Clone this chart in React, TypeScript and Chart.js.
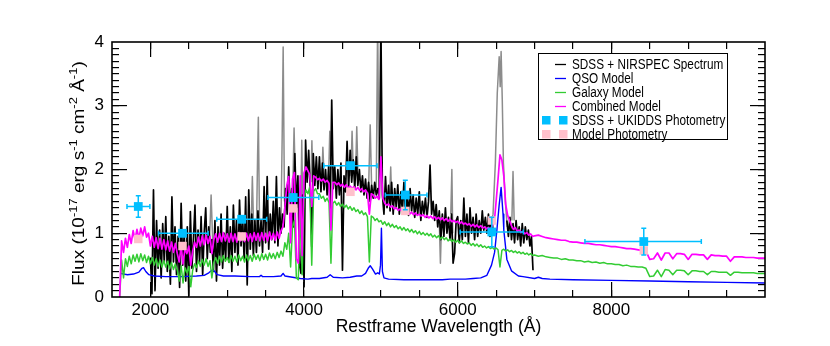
import React, { useEffect, useRef } from "react";
import { Chart, registerables } from "chart.js";

Chart.register(...registerables);

// ---------------- axis definitions ----------------
const X_MIN = 1500;
const X_MAX = 10000;
const Y_MIN = 0;
const Y_MAX = 4;
const X_TICKS = [2000, 4000, 6000, 8000];
const Y_TICKS = [0, 1, 2, 3, 4];
const Y_MAJOR_MARKS = [1, 2, 3];
const X_MINOR_STEP = 500;
const Y_MINOR_STEP = 0.1;
const X_TITLE = "Restframe Wavelength (Å)";
const Y_TITLE_PARTS: [string, boolean][] = [
  ["Flux (10", false], ["-17", true], [" erg s", false], ["-1", true],
  [" cm", false], ["-2", true], [" Å", false], ["-1", true], [")", false],
];

// ---------------- observed spectrum (SDSS + NIRSPEC) ----------------
// wavelength grid: 2000 .. 6980 A, step 20 A (10 values per row = 200 A)
const SPEC_START = 2000;
const SPEC_STEP = 20;
const specFlux: (number | null)[] = [
  /*2000*/ 0.62, 0.05, 1.68, 0.10, 1.20, 0.45, 1.05, 0.30, 1.15, 0.55,
  /*2200*/ 1.26, 0.40, 0.95, 0.20, 1.57, 0.55, 1.10, 0.35, 0.95, 0.15,
  /*2400*/ 1.47, 0.50, 1.00, 0.25, 1.10, 0.02, 1.34, 0.45, 0.90, 1.44,
  /*2600*/ 0.40, 1.05, 0.55, 1.26, 0.35, 1.00, 1.40, 0.60, 1.10, 0.70,
  /*2800*/ 0.90, 0.40, 1.20, 0.25, 1.10, 0.50, 1.30, 0.45, 1.00, 0.60,
  /*3000*/ 1.42, 0.55, 1.10, 0.40, 1.44, 0.70, 1.20, 0.50, 1.52, 0.80,
  /*3200*/ 1.25, 0.60, 1.57, 0.19, 1.68, 0.75, 1.30, 0.65, 1.20, 0.70,
  /*3400*/ 1.35, 0.80, 1.20, 0.70, 1.73, 0.85, 1.89, 0.75, 1.30, 0.90,
  /*3600*/ 1.50, 0.85, 1.89, 0.80, 1.40, 1.00, 1.30, 1.10, 1.70, 1.30,
  /*3800*/ 2.04, 1.30, 1.70, 1.10, 2.25, 1.40, 1.90, 0.50, 0.37, 1.60,
  /*4000*/ 0.16, 2.46, 1.80, 2.30, 1.70, 0.79, 2.25, 1.75, 2.20, 1.70,
  /*4200*/ 2.20, 1.65, 2.10, 1.68, 2.00, 1.60, 2.05, 1.30, 3.09, 1.70,
  /*4400*/ 2.04, 1.55, 2.00, 1.60, 2.10, 0.42, 1.90, 1.65, 2.44, 1.70,
  /*4600*/ 2.30, 1.80, 2.15, 1.70, 2.20, 1.75, 2.00, 1.65, 1.90, 1.60,
  /*4800*/ 1.85, 1.55, 1.80, 1.50, 1.75, 1.55, 1.80, 1.60, 1.70, 1.55,
  /*5000*/ 4.30, 1.60, 1.30, 1.89, 1.40, 1.75, 1.35, 1.80, 1.30, 1.70,
  /*5200*/ 1.40, 1.76, 1.30, 1.65, 1.35, 1.80, 1.30, 1.60, 1.28, 1.70,
  /*5400*/ 1.35, 1.60, 1.25, 1.55, 1.30, 1.65, 1.20, 1.50, 1.30, 1.55,
  /*5600*/ 1.25, 1.50, 2.07, 1.30, 1.50, 1.20, 1.45, 1.10, 1.35, 0.90,
  /*5800*/ 1.30, 0.95, 1.40, 1.00, 1.25, 0.90, 1.30, 0.53, 0.69, 1.20,
  /*6000*/ 1.26, 0.85, 1.20, 0.90, 1.55, 0.95, 1.30, 0.85, 1.40, 1.00,
  /*6200*/ 1.25, 0.90, 1.30, 0.95, 1.20, 1.00, 1.35, 1.05, 1.25, 1.00,
  /*6400*/ 1.30, 0.95, 1.25, 1.05, null, null, null, null, null, null,
  /*6600*/ null, null, 1.20, 0.95, 1.25, 0.90, 1.15, 0.85, 1.20, 0.90,
  /*6800*/ 1.10, 0.80, 1.15, 0.85, 1.10, 0.90, 1.05, 0.80, 0.95, 0.42,
];

// masked emission-line parts of the spectrum (grey); null separates pieces
const lineWave = [
  2770, 2790, 2810, 2815,
  3310, 3327, 3345, 3350,
  3380, 3395, 3405, 3420, 3425,
  3700, 3715, 3728, 3745, 3750,
  3850, 3870, 3890, 3895,
  3955, 3970, 3985, 3990,
  4090, 4102, 4115, 4120,
  4230, 4245, 4260, 4265,
  4320, 4335, 4350, 4355,
  4610, 4625, 4640, 4645,
  4670, 4686, 4700, 4705,
  4840, 4861, 4880, 4885,
  4940, 4958, 4975, 4980,
  5115, 5128, 5140, 5145,
  5760, 5775, 5790, 5795,
  5910, 5924, 5935, 5940,
  6420, 6460, 6490, 6515, 6540, 6553, 6565, 6580, 6595, 6620, 6645, 6650,
  6705, 6720, 6735, 6740,
];
const lineFlux: (number | null)[] = [
  0.9, 1.6, 0.9, null,
  1.0, 1.89, 1.0, null,
  1.0, 2.2, 2.82, 1.2, null,
  1.2, 2.5, 3.92, 1.5, null,
  1.5, 2.65, 1.6, null,
  1.0, 2.46, 1.2, null,
  1.8, 2.45, 1.8, null,
  1.8, 2.35, 1.9, null,
  1.9, 2.6, 2.0, null,
  1.9, 2.6, 2.0, null,
  1.9, 2.67, 2.0, null,
  1.7, 2.7, 1.7, null,
  1.7, 4.4, 1.7, null,
  1.6, 2.04, 1.5, null,
  1.2, 0.53, 1.2, null,
  1.3, 2.0, 1.0, null,
  1.1, 1.3, 2.1, 3.2, 3.77, 3.3, 3.85, 3.1, 2.1, 1.5, 1.1, null,
  1.2, 1.97, 1.2, null,
];

// ---------------- QSO model ----------------
const qsoWave = [
  1610, 1700, 1780, 1850, 1890, 1910, 1940, 1980, 2050, 2200,
  2400, 2600, 2700, 2760, 2800, 2830, 2870, 2950, 3100, 3300,
  3420, 3440, 3460, 3600, 3700, 3727, 3750, 3850, 3950, 4050,
  4100, 4200, 4300, 4340, 4380, 4500, 4600, 4686, 4750, 4800,
  4840, 4861, 4890, 4930, 4959, 4980, 4995, 5007, 5020, 5040,
  5100, 5300, 5500, 5800, 5900, 6000, 6100, 6200, 6300, 6380,
  6440, 6480, 6510, 6540, 6565, 6590, 6600, 6640, 6700, 6790,
  6850, 7000, 7050, 7100, 7200, 7500, 8000, 8500, 9000, 9500,
  10000,
];
const qsoFlux = [
  0.37, 0.35, 0.36, 0.39, 0.45, 0.46, 0.40, 0.35, 0.33, 0.32,
  0.32, 0.33, 0.34, 0.38, 0.42, 0.41, 0.35, 0.33, 0.33, 0.32,
  0.32, 0.34, 0.32, 0.32, 0.33, 0.37, 0.33, 0.31, 0.29, 0.28,
  0.29, 0.29, 0.31, 0.35, 0.31, 0.30, 0.31, 0.33, 0.33, 0.37,
  0.46, 0.49, 0.44, 0.36, 0.38, 0.36, 0.50, 1.08, 0.40, 0.30,
  0.28, 0.27, 0.27, 0.27, 0.28, 0.28, 0.28, 0.29, 0.30, 0.34,
  0.50, 0.70, 1.05, 1.45, 1.72, 1.30, 1.05, 0.59, 0.41, 0.33,
  0.32, 0.29, 0.31, 0.29, 0.28, 0.27, 0.26, 0.25, 0.24, 0.23,
  0.22,
];

// ---------------- galaxy & combined models ----------------
// grid A: 1600 .. 6975 A, step 25 (8 values per row = 200 A)
// grid B: 7000 .. 10000 A, step 50 (10 values per row = 500 A)
const MODEL_A_START = 1600;
const MODEL_A_STEP = 25;
const MODEL_A_COUNT = 216;
const MODEL_B_START = 7000;
const MODEL_B_STEP = 50;
const MODEL_B_COUNT = 61;

const galaxyFlux = [
  /*1600*/ 0.00, 0.58, 0.30, 0.60, 0.48, 0.64, 0.52, 0.66,
  /*1800*/ 0.56, 0.67, 0.55, 0.68, 0.57, 0.66, 0.54, 0.64,
  /*2000*/ 0.52, 0.62, 0.50, 0.60, 0.48, 0.58, 0.47, 0.57,
  /*2200*/ 0.47, 0.56, 0.44, 0.54, 0.43, 0.52, 0.42, 0.25,
  /*2400*/ 0.49, 0.22, 0.46, 0.38, 0.48, 0.16, 0.42, 0.52,
  /*2600*/ 0.46, 0.57, 0.48, 0.59, 0.50, 0.60, 0.48, 0.57,
  /*2800*/ 0.30, 0.54, 0.62, 0.53, 0.64, 0.55, 0.65, 0.56,
  /*3000*/ 0.62, 0.54, 0.65, 0.56, 0.64, 0.55, 0.66, 0.57,
  /*3200*/ 0.64, 0.55, 0.66, 0.57, 0.65, 0.56, 0.67, 0.59,
  /*3400*/ 0.66, 0.57, 0.68, 0.59, 0.67, 0.58, 0.69, 0.61,
  /*3600*/ 0.68, 0.60, 0.70, 0.62, 0.72, 0.64, 0.85, 0.75,
  /*3800*/ 1.00, 0.47, 1.10, 1.20, 0.30, 0.27, 1.35, 0.35,
  /*4000*/ 1.55, 1.68, 1.62, 1.73, 0.50, 1.66, 1.70, 1.62,
  /*4200*/ 1.62, 1.55, 1.58, 1.50, 1.55, 1.48, 0.53, 1.47,
  /*4400*/ 1.50, 1.44, 1.48, 1.42, 1.46, 1.40, 1.44, 1.38,
  /*4600*/ 1.42, 1.36, 1.40, 1.34, 1.37, 1.31, 1.35, 1.29,
  /*4800*/ 1.32, 1.26, 0.55, 1.27, 1.25, 1.20, 1.23, 1.18,
  /*5000*/ 1.20, 1.14, 1.18, 1.12, 1.16, 1.10, 1.14, 1.09,
  /*5200*/ 1.12, 1.07, 1.10, 1.05, 1.09, 1.04, 1.07, 1.02,
  /*5400*/ 1.06, 1.01, 1.04, 0.99, 1.03, 0.98, 1.01, 0.97,
  /*5600*/ 1.00, 0.96, 0.99, 0.94, 0.97, 0.93, 0.96, 0.91,
  /*5800*/ 0.94, 0.90, 0.93, 0.88, 0.91, 0.87, 0.90, 0.86,
  /*6000*/ 0.89, 0.85, 0.88, 0.84, 0.86, 0.83, 0.85, 0.81,
  /*6200*/ 0.84, 0.80, 0.83, 0.79, 0.82, 0.78, 0.80, 0.77,
  /*6400*/ 0.79, 0.76, 0.78, 0.75, 0.77, 0.74, 0.47, 0.73,
  /*6600*/ 0.75, 0.72, 0.74, 0.71, 0.73, 0.70, 0.72, 0.69,
  /*6800*/ 0.71, 0.68, 0.70, 0.67, 0.69, 0.66, 0.68, 0.65,
  /*7000*/ 0.66, 0.64, 0.65, 0.63, 0.62, 0.61, 0.61, 0.59, 0.60, 0.58,
  /*7500*/ 0.58, 0.57, 0.57, 0.55, 0.56, 0.54, 0.55, 0.53, 0.54, 0.52,
  /*8000*/ 0.52, 0.51, 0.51, 0.49, 0.50, 0.48, 0.48, 0.47, 0.47, 0.45,
  /*8500*/ 0.32, 0.33, 0.42, 0.32, 0.43, 0.42, 0.35, 0.42, 0.42, 0.41,
  /*9000*/ 0.35, 0.41, 0.41, 0.40, 0.40, 0.35, 0.40, 0.40, 0.39, 0.39,
  /*9500*/ 0.39, 0.34, 0.39, 0.39, 0.38, 0.38, 0.38, 0.38, 0.37, 0.37,
  /*10000*/ 0.37,
];

const combinedFlux = [
  /*1600*/ 0.00, 0.88, 0.70, 0.92, 0.78, 0.98, 0.84, 1.04,
  /*1800*/ 0.90, 1.06, 0.92, 1.08, 0.96, 1.10, 0.94, 1.00,
  /*2000*/ 0.80, 0.95, 0.78, 0.93, 0.76, 0.92, 0.75, 0.90,
  /*2200*/ 0.74, 0.88, 0.72, 0.86, 0.70, 0.84, 0.68, 0.55,
  /*2400*/ 0.80, 0.52, 0.76, 0.68, 0.80, 0.50, 0.72, 0.86,
  /*2600*/ 0.78, 0.94, 0.80, 0.96, 0.82, 0.97, 0.84, 0.95,
  /*2800*/ 0.68, 0.90, 0.99, 0.86, 1.00, 0.87, 1.01, 0.88,
  /*3000*/ 0.99, 0.86, 1.00, 0.87, 0.99, 0.86, 1.01, 0.88,
  /*3200*/ 1.00, 0.87, 1.00, 0.88, 0.99, 0.87, 1.01, 0.89,
  /*3400*/ 1.00, 0.88, 1.01, 0.89, 1.00, 0.88, 1.02, 0.90,
  /*3600*/ 1.00, 0.89, 1.02, 0.92, 1.04, 1.10, 1.40, 1.75,
  /*3800*/ 1.89, 0.85, 1.85, 1.95, 0.60, 0.53, 1.90, 0.65,
  /*4000*/ 1.95, 2.04, 1.98, 1.92, 1.42, 1.90, 1.88, 1.84,
  /*4200*/ 1.86, 1.82, 1.85, 1.80, 1.83, 1.78, 1.05, 1.80,
  /*4400*/ 1.80, 1.76, 1.79, 1.74, 1.77, 1.72, 1.76, 1.71,
  /*4600*/ 1.74, 1.70, 1.73, 1.68, 1.72, 1.67, 1.70, 1.65,
  /*4800*/ 1.68, 1.63, 1.30, 1.62, 1.60, 1.55, 1.58, 1.53,
  /*5000*/ 2.20, 1.55, 1.47, 1.44, 1.46, 1.41, 1.43, 1.38,
  /*5200*/ 1.40, 1.36, 1.38, 1.34, 1.36, 1.32, 1.34, 1.30,
  /*5400*/ 1.33, 1.29, 1.32, 1.28, 1.30, 1.27, 1.29, 1.25,
  /*5600*/ 1.28, 1.24, 1.27, 1.23, 1.26, 1.22, 1.25, 1.21,
  /*5800*/ 1.24, 1.20, 1.23, 1.19, 1.22, 1.18, 1.20, 1.17,
  /*6000*/ 1.19, 1.15, 1.18, 1.14, 1.16, 1.13, 1.15, 1.11,
  /*6200*/ 1.14, 1.10, 1.13, 1.09, 1.12, 1.08, 1.10, 1.07,
  /*6400*/ 1.09, 1.06, 1.12, 1.16, 1.50, 1.85, 2.23, 2.15,
  /*6600*/ 1.90, 1.45, 1.28, 1.20, 1.12, 1.06, 1.09, 1.03,
  /*6800*/ 1.05, 1.01, 1.03, 0.99, 1.01, 0.97, 0.99, 0.95,
  /*7000*/ 0.96, 0.97, 0.95, 0.93, 0.92, 0.91, 0.90, 0.89, 0.89, 0.87,
  /*7500*/ 0.86, 0.86, 0.85, 0.84, 0.84, 0.83, 0.82, 0.82, 0.81, 0.80,
  /*8000*/ 0.79, 0.79, 0.78, 0.77, 0.76, 0.76, 0.75, 0.74, 0.73, 0.72,
  /*8500*/ 0.59, 0.60, 0.69, 0.58, 0.69, 0.69, 0.60, 0.68, 0.68, 0.67,
  /*9000*/ 0.59, 0.67, 0.67, 0.66, 0.66, 0.59, 0.66, 0.65, 0.65, 0.64,
  /*9500*/ 0.64, 0.56, 0.63, 0.63, 0.63, 0.62, 0.62, 0.62, 0.61, 0.61,
  /*10000*/ 0.61,
];

// ---------------- photometry ----------------
const photWave = [1842, 2418, 3188, 3859, 4604, 5318, 6444, 8422];
const photWaveLo = [1695, 2106, 2864, 3530, 4257, 5058, 6032, 7656];
const photWaveHi = [1993, 2751, 3513, 4192, 4950, 5600, 6855, 9171];
const photFlux = [1.42, 1.0, 1.22, 1.56, 2.06, 1.6, 1.02, 0.87];
const photFluxErr = [0.17, 0.05, 0.05, 0.05, 0.05, 0.23, 0.23, 0.21];
const modelPhotFlux = [0.91, 0.80, 0.95, 1.39, 1.65, 1.35, 1.20, 0.73];

// ---------------- legend ----------------
const LEGEND_LABELS = [
  "SDSS + NIRSPEC Spectrum",
  "QSO Model",
  "Galaxy Model",
  "Combined Model",
  "SDSS + UKIDDS Photometry",
  "Model Photometry",
];

// ---------------- styles ----------------
const C_SPEC = "#000000";
const C_LINES = "#8c8c8c";
const C_QSO = "#0000ff";
const C_GAL = "#33cc33";
const C_COMB = "#ff00ff";
const C_PHOT = "#00bfff";
const C_MPHOT = "#ffc0cb";
const FONT = "'Liberation Sans', Arial, Helvetica, sans-serif";

function grid(start: number, step: number, n: number): number[] {
  const out: number[] = [];
  for (let i = 0; i < n; i++) out.push(start + i * step);
  return out;
}

const specWave = grid(SPEC_START, SPEC_STEP, specFlux.length);
const modelWave = grid(MODEL_A_START, MODEL_A_STEP, MODEL_A_COUNT).concat(
  grid(MODEL_B_START, MODEL_B_STEP, MODEL_B_COUNT)
);

const pts = (wv: number[], fl: (number | null)[]) =>
  wv.map((x, i) => ({ x, y: fl[i] === null ? null : (fl[i] as number) }));

// tick-mark values along each axis (every minor step)
const xTickValues: number[] = grid(X_MIN + X_MINOR_STEP, X_MINOR_STEP, 16);
const yTickValues: number[] = grid(1, 1, 39).map((k) => Y_MIN + k * Y_MINOR_STEP);

// auxiliary zero-size axes that only draw inward tick marks
function markAxis(axis: "x" | "y", position: string, values: number[], len: number) {
  return {
    type: "linear",
    axis,
    position,
    weight: 0,
    min: axis === "x" ? X_MIN : Y_MIN,
    max: axis === "x" ? X_MAX : Y_MAX,
    display: true,
    grid: {
      display: true,
      drawOnChartArea: false,
      drawTicks: true,
      tickLength: -len,
      color: "#000000",
      lineWidth: 1.2,
    },
    border: { display: false },
    ticks: { display: false },
    afterBuildTicks: (s: any) => {
      s.ticks = values.map((v) => ({ value: v }));
    },
    afterFit: (s: any) => {
      if (axis === "x") s.height = 0;
      else s.width = 0;
    },
  };
}

// --------------- plugins ---------------
const errorBars = {
  id: "errorBars",
  afterDatasetsDraw(chart: any) {
    const ctx: CanvasRenderingContext2D = chart.ctx;
    const xs = chart.scales.x;
    const ys = chart.scales.y;
    ctx.save();
    ctx.strokeStyle = C_PHOT;
    ctx.lineWidth = 1.5;
    const cap = 2.5;
    for (let i = 0; i < photWave.length; i++) {
      const yc = ys.getPixelForValue(photFlux[i]);
      const xc = xs.getPixelForValue(photWave[i]);
      const x0 = xs.getPixelForValue(photWaveLo[i]);
      const x1 = xs.getPixelForValue(photWaveHi[i]);
      const y0 = ys.getPixelForValue(photFlux[i] - photFluxErr[i]);
      const y1 = ys.getPixelForValue(photFlux[i] + photFluxErr[i]);
      ctx.beginPath();
      ctx.moveTo(x0, yc); ctx.lineTo(x1, yc);
      ctx.moveTo(x0, yc - cap); ctx.lineTo(x0, yc + cap);
      ctx.moveTo(x1, yc - cap); ctx.lineTo(x1, yc + cap);
      ctx.moveTo(xc, y0); ctx.lineTo(xc, y1);
      ctx.moveTo(xc - cap, y0); ctx.lineTo(xc + cap, y0);
      ctx.moveTo(xc - cap, y1); ctx.lineTo(xc + cap, y1);
      ctx.stroke();
    }
    ctx.restore();
  },
};

const annotations = {
  id: "annotations",
  afterDraw(chart: any) {
    const ctx: CanvasRenderingContext2D = chart.ctx;
    const ca = chart.chartArea;

    // y axis title with superscripts
    ctx.save();
    const baseFont = `19px ${FONT}`;
    const supFont = `13px ${FONT}`;
    let total = 0;
    for (const [t, sup] of Y_TITLE_PARTS) {
      ctx.font = sup ? supFont : baseFont;
      total += ctx.measureText(t).width;
    }
    ctx.translate(84, (ca.top + ca.bottom) / 2 + 4);
    ctx.scale(0.86, 1);
    ctx.rotate(-Math.PI / 2);
    ctx.fillStyle = "#000";
    ctx.textBaseline = "alphabetic";
    ctx.textAlign = "left";
    let xpos = -total / 2;
    for (const [t, sup] of Y_TITLE_PARTS) {
      ctx.font = sup ? supFont : baseFont;
      ctx.fillText(t, xpos, sup ? -8 : 0);
      xpos += ctx.measureText(t).width;
    }
    ctx.restore();

    // frame
    ctx.save();
    ctx.strokeStyle = "#000000";
    ctx.lineWidth = 1.6;
    ctx.strokeRect(ca.left, ca.top, ca.right - ca.left, ca.bottom - ca.top);
    ctx.restore();

    // legend
    const bx = 538.5, by = 53.5, bw = 189, bh = 86;
    ctx.save();
    ctx.fillStyle = "#fff";
    ctx.fillRect(bx, by, bw, bh);
    ctx.strokeStyle = "#000";
    ctx.lineWidth = 1;
    ctx.strokeRect(bx, by, bw, bh);
    const colors = [C_SPEC, C_QSO, C_GAL, C_COMB];
    for (let i = 0; i < LEGEND_LABELS.length; i++) {
      const cy = 64 + i * 14;
      if (i < 4) {
        ctx.strokeStyle = colors[i];
        ctx.lineWidth = 1.3;
        ctx.beginPath();
        ctx.moveTo(555, cy + 0.5);
        ctx.lineTo(566, cy + 0.5);
        ctx.stroke();
      } else {
        ctx.fillStyle = i === 4 ? C_PHOT : C_MPHOT;
        ctx.fillRect(542, cy - 4, 8.5, 8.5);
        ctx.fillRect(559, cy - 4, 8.5, 8.5);
      }
      ctx.save();
      ctx.translate(572, cy + 1);
      ctx.scale(0.84, 1);
      ctx.font = `14px ${FONT}`;
      ctx.textBaseline = "middle";
      ctx.textAlign = "left";
      ctx.fillStyle = "#000";
      ctx.fillText(LEGEND_LABELS[i], 0, 0);
      ctx.restore();
    }
    ctx.restore();
  },
};

export default function App() {
  const ref = useRef<HTMLCanvasElement | null>(null);
  useEffect(() => {
    if (!ref.current) return;
    const lineDs = (label: string, data: any[], color: string, order: number, width = 1.2) => ({
      label,
      data,
      borderColor: color,
      backgroundColor: color,
      borderWidth: width,
      pointRadius: 0,
      tension: 0,
      spanGaps: false,
      borderJoinStyle: "round" as const,
      order,
    });
    const chart = new Chart(ref.current, {
      type: "line",
      data: {
        datasets: [
          {
            label: LEGEND_LABELS[4],
            data: pts(photWave, photFlux),
            showLine: false,
            pointStyle: "rect",
            pointRadius: 6.2,
            pointBorderWidth: 0,
            backgroundColor: C_PHOT,
            borderColor: C_PHOT,
            order: 0,
          } as any,
          {
            label: LEGEND_LABELS[5],
            data: pts(photWave, modelPhotFlux),
            showLine: false,
            pointStyle: "rect",
            pointRadius: 6.0,
            pointBorderWidth: 0,
            backgroundColor: C_MPHOT,
            borderColor: C_MPHOT,
            order: 1,
          } as any,
          lineDs(LEGEND_LABELS[3], pts(modelWave, combinedFlux), C_COMB, 2, 1.7),
          lineDs(LEGEND_LABELS[2], pts(modelWave, galaxyFlux), C_GAL, 3, 1.5),
          lineDs(LEGEND_LABELS[1], pts(qsoWave, qsoFlux), C_QSO, 4, 1.4),
          lineDs(LEGEND_LABELS[0], pts(specWave, specFlux), C_SPEC, 5, 1.7),
          lineDs("lines", pts(lineWave, lineFlux), C_LINES, 6, 1.5),
        ],
      },
      options: {
        animation: false,
        responsive: false,
        devicePixelRatio: 1,
        layout: { padding: { left: 0, right: 65, top: 42, bottom: 0 } },
        plugins: { legend: { display: false }, tooltip: { enabled: false } },
        scales: {
          x: {
            type: "linear",
            position: "bottom",
            weight: 10,
            min: X_MIN,
            max: X_MAX,
            grid: { display: false, drawTicks: false },
            border: { display: false },
            afterBuildTicks: (s: any) => {
              s.ticks = X_TICKS.map((v) => ({ value: v }));
            },
            afterFit: (s: any) => {
              s.height = 49;
            },
            ticks: {
              autoSkip: false,
              maxRotation: 0,
              padding: 3,
              color: "#000",
              font: { family: FONT, size: 17 },
              callback: (v: any) => String(v),
            },
            title: {
              display: true,
              text: X_TITLE,
              color: "#000",
              font: { family: FONT, size: 17.5 },
              padding: { top: 0, bottom: 8 },
            },
          },
          y: {
            type: "linear",
            position: "left",
            weight: 10,
            min: Y_MIN,
            max: Y_MAX,
            grid: { display: false, drawTicks: false },
            border: { display: false },
            afterBuildTicks: (s: any) => {
              s.ticks = Y_TICKS.map((v) => ({ value: v }));
            },
            afterFit: (s: any) => {
              s.width = 112;
            },
            ticks: {
              padding: 8,
              color: "#000",
              font: { family: FONT, size: 17 },
              callback: (v: any) => String(v),
            },
          },
          xMinorBottom: markAxis("x", "bottom", xTickValues, 7),
          xMajorBottom: markAxis("x", "bottom", X_TICKS, 15),
          xMinorTop: markAxis("x", "top", xTickValues, 7),
          xMajorTop: markAxis("x", "top", X_TICKS, 15),
          yMinorLeft: markAxis("y", "left", yTickValues, 7),
          yMajorLeft: markAxis("y", "left", Y_MAJOR_MARKS, 15),
          yMinorRight: markAxis("y", "right", yTickValues, 7),
          yMajorRight: markAxis("y", "right", Y_MAJOR_MARKS, 15),
        },
      },
      plugins: [errorBars, annotations],
    } as any);
    return () => chart.destroy();
  }, []);
  return (
    <div style={{ position: "fixed", left: 0, top: 0, width: 830, height: 346, background: "#fff" }}>
      <canvas ref={ref} width={830} height={346} style={{ display: "block", width: 830, height: 346 }} />
    </div>
  );
}
